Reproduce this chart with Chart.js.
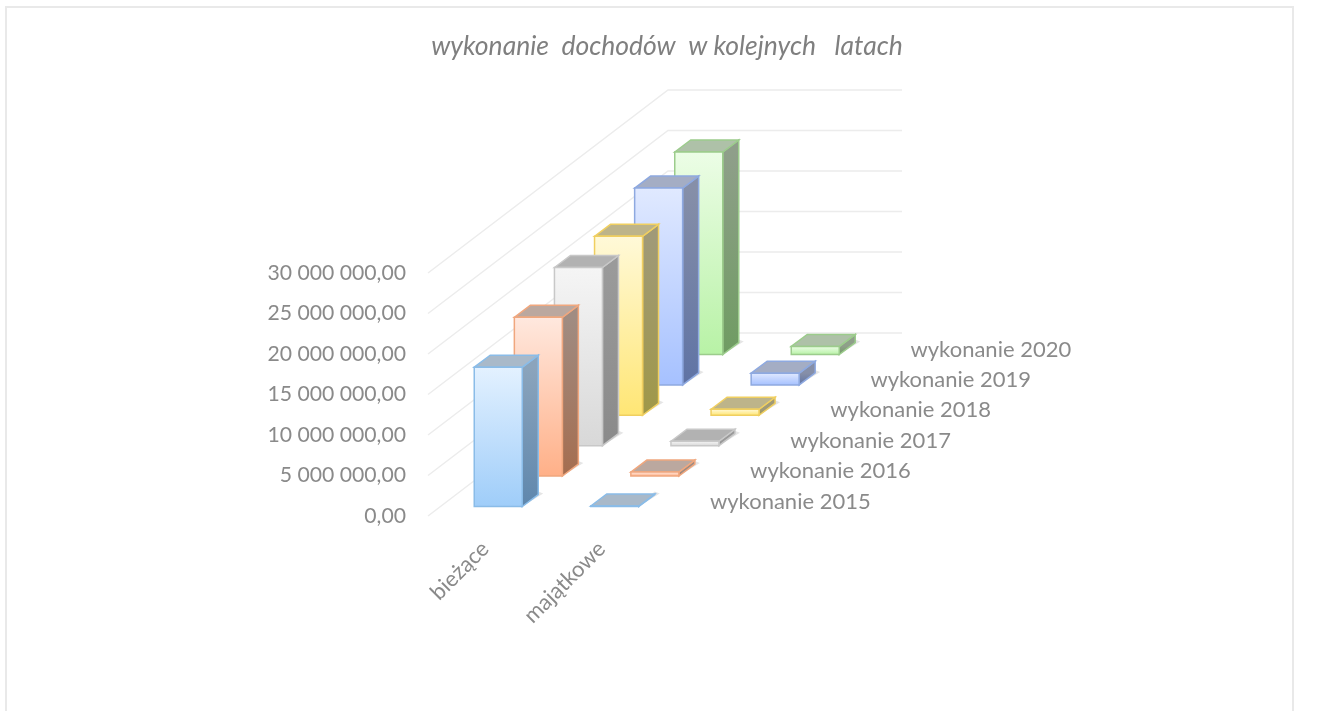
<!DOCTYPE html>
<html lang="pl">
<head>
<meta charset="utf-8">
<title>wykonanie dochodów</title>
<script src="https://cdn.jsdelivr.net/npm/chart.js@4/dist/chart.umd.js"></script>
<style>
html,body{margin:0;padding:0;background:#fff;overflow:hidden}
canvas{position:absolute;left:0;top:0;filter:blur(0.7px)}
#frame{position:absolute;left:5px;top:6px;width:1289px;height:705px;border:2px solid #e9e9e9;border-bottom:none;box-sizing:border-box;pointer-events:none}
</style>
</head>
<body>
<canvas id="c" width="1327" height="711"></canvas>
<div id="frame"></div>
<script>
const categories = ['bieżące', 'majątkowe'];
const seriesNames = ['wykonanie 2015','wykonanie 2016','wykonanie 2017','wykonanie 2018','wykonanie 2019','wykonanie 2020'];
const wykonanie2015 = [17200000, 60000];
const wykonanie2016 = [19600000, 500000];
const wykonanie2017 = [22000000, 550000];
const wykonanie2018 = [22100000, 750000];
const wykonanie2019 = [24300000, 1450000];
const wykonanie2020 = [25000000, 1000000];
const seriesValues = [wykonanie2015,wykonanie2016,wykonanie2017,wykonanie2018,wykonanie2019,wykonanie2020];

const palette = [
  {hi:'#e3f1ff',lo:'#9fcdf9',edge:'#8abce8',sideHi:'#8ba4bc',sideLo:'#5f87ad',top:'#a9b9c9'},
  {hi:'#ffe8de',lo:'#ffb088',edge:'#f0a77e',sideHi:'#a08c82',sideLo:'#a56d4f',top:'#bba89f'},
  {hi:'#f5f5f5',lo:'#d8d8d8',edge:'#c8c8c8',sideHi:'#9a9a9a',sideLo:'#8a8a8a',top:'#b2b2b2'},
  {hi:'#fff9d8',lo:'#ffe675',edge:'#f0cf60',sideHi:'#a09a78',sideLo:'#a09848',top:'#bdb48a'},
  {hi:'#e0e9ff',lo:'#a6c1ff',edge:'#8ea9e0',sideHi:'#868fa8',sideLo:'#5f73a5',top:'#a4adc4'},
  {hi:'#ecfde6',lo:'#b8f2a6',edge:'#9ccc8c',sideHi:'#8f9f8a',sideLo:'#6f9c62',top:'#aec1a8'}
];
const FONT = 'Lato, "Open Sans", sans-serif';
const TEXT = '#8a8a8a';
const DEPTH = {startX:12, startY:9.5, stepX:40.1, stepY:30.4, barX:16, barY:12, wallX:240, wallY:183, backRight:902};

function poly(ctx, pts, fill, stroke){
  ctx.beginPath();
  pts.forEach((p,i)=> i ? ctx.lineTo(p[0],p[1]) : ctx.moveTo(p[0],p[1]));
  ctx.closePath();
  if(fill){ctx.fillStyle=fill;ctx.fill();}
  if(stroke){ctx.strokeStyle=stroke;ctx.lineWidth=1.5;ctx.stroke();}
}

const perspective = {
  id:'perspective',
  beforeDatasetsDraw(chart){
    const {ctx,scales:{y},chartArea:a} = chart;
    ctx.save();
    ctx.strokeStyle='#ececec';ctx.lineWidth=1.5;
    y.ticks.forEach(t=>{
      const py=y.getPixelForValue(t.value);
      ctx.beginPath();
      ctx.moveTo(a.left,py);
      ctx.lineTo(a.left+DEPTH.wallX,py-DEPTH.wallY);
      ctx.lineTo(DEPTH.backRight,py-DEPTH.wallY);
      ctx.stroke();
    });
    ctx.fillStyle=TEXT;ctx.font='22px '+FONT;ctx.textAlign='left';ctx.textBaseline='middle';
    seriesNames.forEach((n,i)=>{
      ctx.fillText(n, a.right+49+DEPTH.stepX*i, y.getPixelForValue(0)-14.5-DEPTH.stepY*i);
    });
    ctx.restore();
  },
  beforeDatasetDraw(chart,args){
    const {ctx} = chart;
    const i=args.index, c=palette[i];
    const dx=DEPTH.startX+DEPTH.stepX*i, dy=DEPTH.startY+DEPTH.stepY*i;
    ctx.save();
    args.meta.data.forEach(bar=>{
      const l=bar.x-bar.width/2+dx, r=bar.x+bar.width/2+dx, t=bar.y-dy, b=bar.base-dy;
      const bx=DEPTH.barX, by=DEPTH.barY;
      poly(ctx,[[r,b],[r+bx+5,b-by-1],[r+bx,b-by-3],[r,b-2]],'rgba(0,0,0,0.10)');
      const side=ctx.createLinearGradient(0,t,0,b);
      side.addColorStop(0,c.sideHi);side.addColorStop(1,c.sideLo);
      poly(ctx,[[r,t],[r+bx,t-by],[r+bx,b-by],[r,b]],side,c.edge);
      poly(ctx,[[l,t],[l+bx,t-by],[r+bx,t-by],[r,t]],c.top,c.edge);
      const front=ctx.createLinearGradient(0,t,0,b);
      front.addColorStop(0,c.hi);front.addColorStop(1,c.lo);
      poly(ctx,[[l,t],[r,t],[r,b],[l,b]],front,c.edge);
    });
    ctx.restore();
    return false;
  }
};

new Chart(document.getElementById('c'),{
  type:'bar',
  data:{
    labels:categories,
    datasets:seriesValues.map((v,i)=>({label:seriesNames[i],data:v,grouped:false,barThickness:48}))
  },
  options:{
    responsive:false,
    animation:false,
    layout:{padding:{left:7,top:0,right:0,bottom:0}},
    plugins:{
      legend:{display:false},
      tooltip:{enabled:false},
      title:{
        display:true,
        text:'wykonanie  dochodów  w kolejnych   latach',
        color:'#7f7f7f',
        font:{family:FONT,size:26.5,style:'italic',weight:'normal',lineHeight:1.2},
        padding:{top:31,bottom:210.2}
      }
    },
    scales:{
      x:{
        grid:{display:false},border:{display:false},
        afterFit(s){s.height=195;},
        ticks:{color:TEXT,font:{family:FONT,size:22},minRotation:45,maxRotation:45,autoSkip:false,padding:12,labelOffset:-1}
      },
      y:{
        min:0,max:30000000,
        grid:{display:false},border:{display:false},
        afterFit(s){s.width=421;},
        ticks:{
          stepSize:5000000,color:TEXT,font:{family:FONT,size:21.2},padding:14,labelOffset:0,
          callback(v){return new Intl.NumberFormat('pl-PL',{minimumFractionDigits:2,useGrouping:true}).format(v).replace(/\u00a0/g,' ').replace(/^(\d)(\d{3}),/,'$1 $2,');}
        }
      },
      spacer:{
        position:'right',
        grid:{display:false},border:{display:false},ticks:{display:false},
        afterFit(s){s.width=666;}
      }
    }
  },
  plugins:[perspective]
});
</script>
</body>
</html>
